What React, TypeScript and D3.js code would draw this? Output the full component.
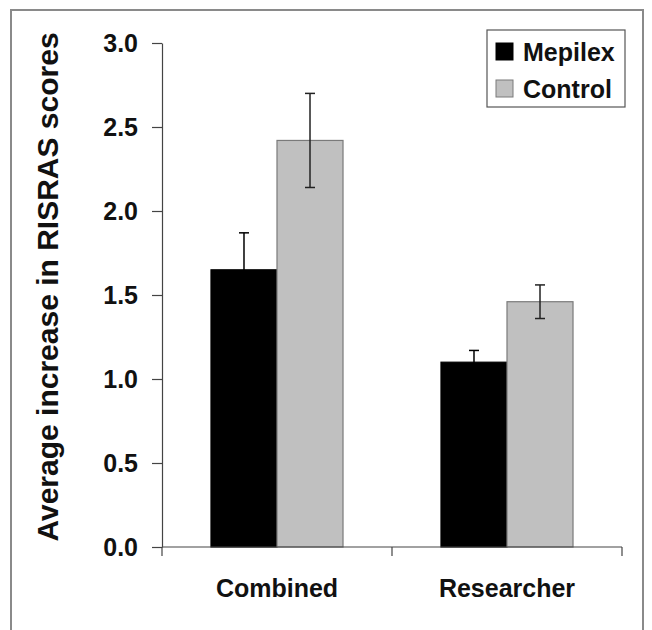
import { useEffect, useRef } from 'react'
import * as d3 from 'd3'

const categories = ['Combined', 'Researcher']
const seriesNames = ['Mepilex', 'Control']
const mepilex = [1.65, 1.10]
const control = [2.42, 1.46]
const mepilexErr = [0.22, 0.07]
const controlErr = [0.28, 0.10]
const yTicks = [0, 0.5, 1.0, 1.5, 2.0, 2.5, 3.0]

const colors = ['#000000', '#c0c0c0']
const strokes = ['#000000', '#7a7a7a']

function App() {
  const svgRef = useRef<SVGSVGElement>(null)

  useEffect(() => {
    const width = 652
    const height = 630
    const margin = { top: 43, right: 30, bottom: 83, left: 162 }
    const font = '"Liberation Sans", Arial, Helvetica, sans-serif'

    const svg = d3.select(svgRef.current)
    svg.selectAll('*').remove()
    svg.attr('width', width).attr('height', height)

    // outer frame (bottom edge is cropped in the original)
    svg.append('rect')
      .attr('x', 11).attr('y', 10)
      .attr('width', 632).attr('height', 640)
      .attr('fill', 'none')
      .attr('stroke', '#8a8a8a')
      .attr('stroke-width', 2)

    const x = d3.scaleBand()
      .domain(categories)
      .range([margin.left, width - margin.right])
      .paddingInner(0.426)
      .paddingOuter(0.213)

    const xs = d3.scaleBand()
      .domain(seriesNames)
      .range([0, x.bandwidth()])

    const y = d3.scaleLinear()
      .domain([0, 3])
      .range([height - margin.bottom, margin.top])

    const rows = categories.map((c, i) => ({
      cat: c,
      vals: [
        { s: seriesNames[0], v: mepilex[i], e: mepilexErr[i] },
        { s: seriesNames[1], v: control[i], e: controlErr[i] },
      ],
    }))

    const g = svg.selectAll('g.grp')
      .data(rows)
      .join('g')
      .attr('class', 'grp')
      .attr('transform', d => `translate(${x(d.cat)},0)`)

    g.selectAll('rect')
      .data(d => d.vals)
      .join('rect')
      .attr('x', d => xs(d.s)!)
      .attr('y', d => y(d.v))
      .attr('width', xs.bandwidth())
      .attr('height', d => y(0) - y(d.v))
      .attr('fill', (_, i) => colors[i])
      .attr('stroke', (_, i) => strokes[i])
      .attr('stroke-width', 1.2)

    // error bars
    const eb = g.selectAll('g.err')
      .data(d => d.vals)
      .join('g')
      .attr('class', 'err')
      .attr('transform', d => `translate(${xs(d.s)! + xs.bandwidth() / 2},0)`)
      .attr('stroke', (_, i) => (i === 0 ? '#000' : '#222'))
      .attr('stroke-width', 1.5)
    eb.append('line')
      .attr('y1', d => y(d.v + d.e)).attr('y2', d => y(d.v - d.e))
    eb.append('line')
      .attr('x1', -5).attr('x2', 5)
      .attr('y1', d => y(d.v + d.e)).attr('y2', d => y(d.v + d.e))
    eb.append('line')
      .attr('x1', -5).attr('x2', 5)
      .attr('y1', d => y(d.v - d.e)).attr('y2', d => y(d.v - d.e))

    // y axis
    const yAxis = svg.append('g')
      .attr('transform', `translate(${margin.left},0)`)
      .call(d3.axisLeft(y).tickValues(yTicks).tickSize(10).tickSizeOuter(0).tickPadding(14).tickFormat(d3.format('.1f')))
    yAxis.select('.domain').attr('stroke', '#444').attr('stroke-width', 1.2)
    yAxis.selectAll('.tick line').attr('stroke', '#444').attr('stroke-width', 1.2)
    yAxis.selectAll('.tick text')
      .attr('font-family', font)
      .attr('font-weight', 'bold')
      .attr('font-size', 25)
      .attr('fill', '#111')

    // x axis
    const x0 = x.range()[0]
    const bounds = d3.range(categories.length + 1).map(i => x0 + i * x.step())
    const xAxis = svg.append('g')
    xAxis.append('line')
      .attr('x1', x.range()[0]).attr('x2', x.range()[1])
      .attr('y1', y(0)).attr('y2', y(0))
      .attr('stroke', '#444').attr('stroke-width', 1.2)
    xAxis.selectAll('line.tk')
      .data(bounds)
      .join('line')
      .attr('class', 'tk')
      .attr('x1', d => d).attr('x2', d => d)
      .attr('y1', y(0)).attr('y2', y(0) + 9)
      .attr('stroke', '#444').attr('stroke-width', 1.2)
    xAxis.selectAll('text')
      .data(categories)
      .join('text')
      .attr('x', d => x(d)! + x.bandwidth() / 2)
      .attr('y', y(0) + 50)
      .attr('text-anchor', 'middle')
      .attr('font-family', font)
      .attr('font-weight', 'bold')
      .attr('font-size', 25)
      .attr('fill', '#111')
      .text(d => d)

    // y title
    svg.append('text')
      .attr('transform', 'translate(58,287) rotate(-90)')
      .attr('text-anchor', 'middle')
      .attr('font-family', font)
      .attr('font-weight', 'bold')
      .attr('font-size', 30)
      .attr('fill', '#111')
      .text('Average increase in RISRAS scores')

    // legend
    const lg = svg.append('g').attr('transform', 'translate(487,30)')
    lg.append('rect')
      .attr('width', 138).attr('height', 77)
      .attr('fill', '#fff')
      .attr('stroke', '#555').attr('stroke-width', 1.2)
    const li = lg.selectAll('g.li')
      .data(seriesNames)
      .join('g')
      .attr('class', 'li')
      .attr('transform', (_, i) => `translate(9,${13 + i * 37})`)
    li.append('rect')
      .attr('width', 17).attr('height', 17)
      .attr('fill', (_, i) => colors[i])
      .attr('stroke', (_, i) => strokes[i])
    li.append('text')
      .attr('x', 27).attr('y', 18)
      .attr('font-family', font)
      .attr('font-weight', 'bold')
      .attr('font-size', 25)
      .attr('fill', '#111')
      .text(d => d)
  }, [])

  return (
    <svg ref={svgRef} style={{ position: 'absolute', left: 0, top: 0 }}></svg>
  )
}

export default App
